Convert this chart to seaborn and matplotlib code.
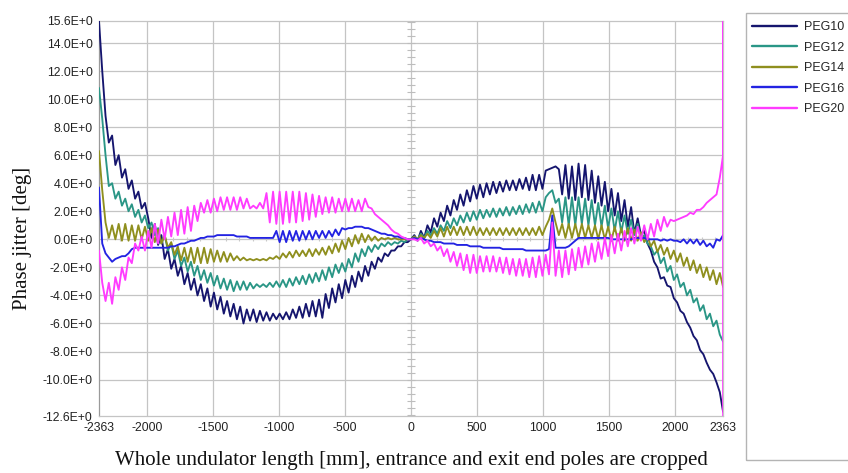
import numpy as np
import pandas as pd
import matplotlib
matplotlib.use("Agg")
import matplotlib.pyplot as plt
from matplotlib.lines import Line2D
from matplotlib.patches import Rectangle
import seaborn as sns


# pole positions along the undulator [mm], one value every half period
x_start, x_end, n_pts = -2363, 2363, 191

peg10 = [
	15.6, 12.0, 8.8, 6.9, 7.4, 5.3, 6.0, 4.4, 5.0, 3.6,
	4.2, 2.9, 3.4, 2.2, 2.6, 1.5, 0.1, 1.1, -0.4, 0.3,
	-1.4, -0.7, -2.1, -1.4, -2.6, -1.9, -3.2, -2.4, -3.6, -2.8,
	-4.0, -3.2, -4.4, -3.5, -4.8, -3.8, -5.0, -4.1, -5.3, -4.4,
	-5.5, -4.6, -5.7, -4.8, -6.0, -5.0, -5.8, -5.0, -5.9, -5.1,
	-5.8, -5.2, -5.8, -5.3, -5.7, -5.3, -5.7, -5.2, -5.7, -5.0,
	-5.6, -4.8, -5.6, -4.6, -5.5, -4.4, -5.5, -4.3, -5.6, -3.9,
	-4.9, -3.5, -4.5, -3.2, -4.2, -2.9, -3.8, -2.6, -3.4, -2.3,
	-3.0, -1.9, -2.6, -1.6, -2.1, -1.3, -1.6, -1.0, -1.2, -0.8,
	-0.8, -0.5, -0.5, -0.2, -0.2, 0.0, 0.3, -0.1, 0.6, 0.1,
	1.0, 0.5, 1.5, 0.9, 1.9, 1.3, 2.4, 1.7, 2.8, 2.1,
	3.2, 2.4, 3.5, 2.7, 3.8, 2.9, 3.9, 3.0, 4.0, 3.2,
	4.1, 3.3, 4.1, 3.4, 4.2, 3.5, 4.2, 3.5, 4.3, 3.6,
	4.4, 3.5, 4.6, 3.5, 4.6, 3.6, 4.9, 5.0, 5.1, 5.2,
	5.0, 3.2, 5.3, 2.9, 5.2, 2.8, 5.4, 3.0, 5.3, 2.8,
	4.9, 2.6, 4.5, 2.4, 4.1, 2.0, 3.6, 1.7, 3.3, 1.3,
	2.8, 0.9, 2.3, 0.4, 1.5, 0.3, 0.6, -0.3, -0.8, -1.6,
	-2.0, -2.8, -2.7, -3.3, -3.4, -4.2, -4.5, -5.1, -5.3, -5.9,
	-6.3, -6.9, -7.2, -7.9, -8.2, -8.8, -9.3, -9.6, -10.2, -10.9,
	-12.3,
]

peg12 = [
	10.8, 8.6, 6.0, 3.8, 4.0, 2.9, 3.4, 2.4, 2.9, 2.0,
	2.5, 1.6, 2.1, 1.2, 1.7, 0.8, 1.2, 0.3, 0.8, -0.3,
	0.3, -0.8, -0.3, -1.4, -0.8, -1.9, -1.3, -2.3, -1.6, -2.6,
	-1.9, -2.9, -2.2, -3.1, -2.4, -3.3, -2.6, -3.5, -2.8, -3.6,
	-2.9, -3.7, -3.0, -3.6, -3.0, -3.6, -3.1, -3.5, -3.2, -3.4,
	-3.2, -3.4, -3.1, -3.4, -3.0, -3.4, -2.9, -3.4, -2.8, -3.3,
	-2.7, -3.2, -2.6, -3.2, -2.5, -3.1, -2.4, -3.0, -2.2, -2.9,
	-2.0, -2.7, -1.8, -2.4, -1.7, -2.3, -1.4, -2.0, -1.0, -1.6,
	-0.7, -1.2, -0.5, -0.9, -0.4, -0.7, -0.3, -0.5, -0.2, -0.4,
	-0.2, -0.3, -0.1, -0.2, 0.0, 0.0, 0.2, 0.0, 0.4, 0.1,
	0.6, 0.3, 0.8, 0.4, 1.0, 0.6, 1.3, 0.8, 1.5, 1.0,
	1.7, 1.2, 1.9, 1.3, 2.0, 1.4, 2.1, 1.5, 2.1, 1.6,
	2.2, 1.6, 2.2, 1.7, 2.3, 1.7, 2.3, 1.8, 2.4, 1.8,
	2.5, 1.9, 2.6, 1.9, 2.7, 2.0, 3.0, 3.3, 3.5, 2.6,
	2.9, 1.2, 3.0, 1.0, 3.0, 1.0, 3.0, 1.1, 2.9, 1.0,
	2.8, 1.0, 2.6, 0.9, 2.4, 0.8, 2.2, 0.6, 2.0, 0.5,
	1.7, 0.4, 1.4, 0.3, 1.1, 0.0, 0.3, -0.3, -0.5, -1.1,
	-0.8, -1.7, -1.3, -2.3, -1.9, -2.9, -2.5, -3.4, -3.1, -4.0,
	-3.6, -4.5, -4.2, -5.1, -4.7, -5.7, -5.3, -6.2, -5.8, -6.8,
	-7.3,
]

peg14 = [
	6.3, 3.5, 1.2, 0.1, 1.0, 0.0, 1.1, -0.1, 1.1, -0.1,
	1.0, -0.1, 1.0, 0.0, 0.9, -0.1, 0.8, -0.2, 0.7, -0.3,
	0.3, -0.6, -0.2, -1.1, -0.5, -1.5, -0.6, -1.6, -0.6, -1.7,
	-0.6, -1.7, -0.6, -1.7, -0.7, -1.6, -0.8, -1.6, -0.9, -1.6,
	-1.0, -1.5, -1.2, -1.5, -1.3, -1.5, -1.4, -1.5, -1.4, -1.5,
	-1.4, -1.5, -1.3, -1.4, -1.2, -1.4, -1.0, -1.3, -0.9, -1.3,
	-0.8, -1.2, -0.8, -1.2, -0.7, -1.2, -0.7, -1.1, -0.6, -1.1,
	-0.5, -1.0, -0.3, -0.9, -0.1, -0.7, 0.1, -0.5, 0.3, -0.3,
	0.4, -0.2, 0.3, -0.1, 0.2, -0.1, 0.1, 0.0, 0.1, 0.0,
	0.1, 0.0, 0.0, 0.0, 0.0, 0.0, 0.2, 0.0, 0.3, 0.1,
	0.4, 0.1, 0.6, 0.2, 0.8, 0.2, 0.9, 0.3, 0.9, 0.3,
	0.9, 0.3, 0.9, 0.3, 0.9, 0.3, 0.8, 0.3, 0.8, 0.3,
	0.8, 0.3, 0.8, 0.3, 0.8, 0.3, 0.8, 0.3, 0.8, 0.3,
	0.8, 0.3, 0.8, 0.3, 0.9, 0.3, 0.9, 1.4, 2.2, 1.2,
	0.3, 1.1, 0.1, 1.1, 0.1, 1.1, 0.1, 1.1, 0.1, 1.0,
	0.1, 1.0, 0.0, 1.0, 0.0, 0.9, -0.1, 0.9, -0.1, 0.8,
	-0.1, 0.8, -0.1, 0.7, -0.1, 0.5, -0.2, 0.2, -0.5, -0.1,
	-0.9, -0.4, -1.1, -0.6, -1.4, -0.8, -1.6, -1.0, -1.9, -1.3,
	-2.2, -1.5, -2.4, -1.8, -2.7, -2.0, -2.9, -2.2, -3.2, -2.4,
	-3.4,
]

peg16 = [
	3.7, -0.3, -1.0, -1.3, -1.6, -1.4, -1.3, -1.2, -1.2, -1.0,
	-0.7, -0.6, -0.6, -0.6, -0.6, -0.6, -0.6, -0.6, -0.6, -0.6,
	-0.6, -0.6, -0.5, -0.5, -0.4, -0.3, -0.3, -0.2, -0.1, -0.1,
	0.0, 0.1, 0.1, 0.2, 0.2, 0.2, 0.3, 0.3, 0.3, 0.3,
	0.3, 0.3, 0.2, 0.2, 0.2, 0.2, 0.1, 0.1, 0.1, 0.1,
	0.1, 0.1, 0.1, 0.1, 0.6, -0.2, 0.6, -0.2, 0.6, -0.1,
	0.6, -0.1, 0.6, 0.0, 0.6, 0.0, 0.6, 0.1, 0.6, 0.1,
	0.6, 0.2, 0.7, 0.3, 0.8, 0.7, 0.8, 0.8, 0.9, 0.9,
	0.9, 0.8, 0.8, 0.7, 0.6, 0.5, 0.4, 0.4, 0.3, 0.3,
	0.2, 0.2, 0.1, 0.1, 0.0, 0.0, 0.1, 0.0, 0.1, 0.0,
	-0.1, -0.1, -0.2, -0.2, -0.2, -0.3, -0.3, -0.3, -0.3, -0.4,
	-0.4, -0.4, -0.4, -0.5, -0.5, -0.5, -0.5, -0.6, -0.6, -0.6,
	-0.6, -0.6, -0.6, -0.7, -0.7, -0.7, -0.7, -0.7, -0.7, -0.7,
	-0.8, -0.8, -0.8, -0.8, -0.8, -0.8, -0.8, -0.7, 1.7, -0.6,
	-0.6, -0.6, -0.6, -0.5, -0.3, -0.1, 0.1, 0.1, 0.1, 0.1,
	0.1, 0.1, 0.1, 0.1, 0.1, 0.1, 0.0, 0.0, 0.0, 0.0,
	0.0, 0.0, 0.0, 0.1, 0.1, 0.1, 0.1, 0.0, 0.0, 0.0,
	0.0, -0.1, 0.0, -0.1, 0.0, -0.1, -0.1, -0.2, 0.0, -0.3,
	0.0, -0.3, 0.0, -0.4, -0.1, -0.5, -0.3, -0.6, 0.0, -0.1,
	0.3,
]

peg20 = [
	-0.8, -3.1, -4.4, -3.1, -4.6, -2.7, -3.6, -2.0, -2.9, -1.3,
	-1.7, -0.3, -0.8, 0.2, -0.8, 0.6, -0.6, 1.1, -0.3, 1.4,
	0.0, 1.6, 0.2, 1.9, 0.3, 2.1, 0.4, 2.3, 0.6, 2.4,
	1.3, 2.6, 1.9, 2.8, 1.9, 2.9, 2.0, 3.0, 2.1, 3.0,
	2.1, 3.0, 2.1, 3.0, 2.2, 2.9, 2.2, 2.4, 2.2, 2.6,
	2.2, 3.3, 1.2, 3.4, 1.1, 3.4, 1.1, 3.4, 1.2, 3.4,
	1.2, 3.4, 1.3, 3.3, 1.4, 3.2, 1.6, 3.1, 1.8, 3.0,
	1.9, 3.0, 1.9, 2.9, 2.0, 2.9, 2.0, 2.9, 2.0, 2.8,
	2.0, 2.9, 2.3, 2.2, 1.8, 1.6, 1.4, 1.2, 1.0, 0.7,
	0.5, 0.4, 0.2, 0.1, 0.0, 0.0, 0.0, -0.1, 0.1, -0.3,
	-0.1, -0.5, -0.3, -0.8, -0.5, -1.2, -0.7, -1.6, -0.9, -1.9,
	-1.0, -2.2, -1.1, -2.4, -1.1, -2.4, -1.2, -2.3, -1.2, -2.3,
	-1.2, -2.3, -1.3, -2.4, -1.3, -2.5, -1.4, -2.6, -1.4, -2.6,
	-1.4, -2.7, -1.3, -2.7, -1.2, -2.6, -1.1, -2.5, 1.2, -2.6,
	-0.8, -2.7, -0.8, -2.5, -0.7, -2.2, -0.6, -2.0, -0.5, -1.8,
	-0.3, -1.6, -0.2, -1.4, 0.1, -1.2, 0.3, -1.0, 0.4, -0.8,
	0.6, -0.5, 0.8, -0.3, 0.9, -0.1, 1.0, 0.0, 1.1, 0.2,
	1.4, 0.6, 1.6, 0.9, 1.4, 1.3, 1.4, 1.5, 1.6, 1.7,
	1.9, 1.8, 2.1, 2.1, 2.3, 2.6, 2.8, 3.0, 3.2, 4.4,
	6.0,
]
# PEG20 runs off scale on the last pole (vertical line at the exit)
peg20_exit_x = [2363, 2363]
peg20_exit = [30.0, -30.0]

series_names = ["PEG10", "PEG12", "PEG14", "PEG16", "PEG20"]
series_colors = ["#15156e", "#2a9686", "#8f8f1e", "#2323e2", "#ff3cff"]

y_ticks = [15.6, 14, 12, 10, 8, 6, 4, 2, 0, -2, -4, -6, -8, -10, -12.6]
x_ticks = [-2363, -2000, -1500, -1000, -500, 0, 500, 1000, 1500, 2000, 2363]

# ---- build long table
x_pos = np.linspace(x_start, x_end, n_pts)
frames = []
for name, vals in zip(series_names, [peg10, peg12, peg14, peg16, peg20]):
	xs = list(x_pos)
	ys = list(vals)
	if name == "PEG20":
		xs += peg20_exit_x
		ys += peg20_exit
	frames.append(pd.DataFrame({"x": xs, "jitter": ys, "series": name}))
data = pd.concat(frames, ignore_index=True)

sns.set_theme(style="white")
plt.rcParams["font.family"] = ["Liberation Sans", "DejaVu Sans"]

fig = plt.figure(figsize=(8.48, 4.73), dpi=100)
ax = fig.add_axes([0.1167, 0.1205, 0.736, 0.836])

grid_c = "#c4c4c4"
for xv in x_ticks[1:-1]:
	ax.axvline(xv, color=grid_c, lw=0.9, zorder=0)
for yv in y_ticks[1:-1]:
	ax.axhline(yv, color=grid_c, lw=0.9, zorder=0)

# centre cross with little ticks
yt = np.arange(-12.5, 15.6, 0.5)
ax.scatter(np.zeros_like(yt), yt, marker="_", s=30, color="#bdbdbd", lw=0.8, zorder=0.5)
xt = np.arange(-2300, 2364, 100)
ax.scatter(xt, np.zeros_like(xt), marker="|", s=12, color="#c8c8c8", lw=0.8, zorder=0.5)

sns.lineplot(data=data, x="x", y="jitter", hue="series", units="series",
	hue_order=series_names, palette=series_colors, estimator=None, sort=False,
	lw=1.35, legend=False, ax=ax, zorder=3)

ax.set_xlim(x_start, x_end)
ax.set_ylim(-12.6, 15.6)
ax.set_xticks(x_ticks)
ax.set_xticklabels([str(v) for v in x_ticks])
ax.set_yticks(y_ticks)
ax.set_yticklabels([f"{v:.1f}E+0" for v in y_ticks])
ax.tick_params(axis="both", labelsize=8.8, labelcolor="#222222", color="#555555",
	length=3, width=0.8, direction="out", pad=1.5)
for s in ax.spines.values():
	s.set_color(grid_c)
	s.set_linewidth(0.9)
ax.spines["left"].set_color("#9a9a9a")

ax.set_xlabel("Whole undulator length [mm], entrance and exit end poles are cropped",
	family="Liberation Serif", fontsize=15, color="#111111", labelpad=12)
ax.set_ylabel("Phase jitter [deg]", family="Liberation Serif", fontsize=15,
	color="#111111")
ax.yaxis.set_label_coords(-0.108, 0.448)

# legend in a tall box at the right
fig.patches.append(Rectangle((746 / 848, 1 - 460 / 473), 120 / 848, 447 / 473,
	transform=fig.transFigure, fill=False, edgecolor="#b4b4b4", lw=1.0))
handles = [Line2D([0], [0], color=c, lw=1.7) for c in series_colors]
fig.legend(handles, series_names, loc="upper left",
	bbox_to_anchor=(752 / 848, 1 - 21 / 473), frameon=False, fontsize=9,
	handlelength=3.6, handletextpad=0.55, labelspacing=0.68, borderpad=0,
	borderaxespad=0)

fig.savefig("out.png", dpi=100)
